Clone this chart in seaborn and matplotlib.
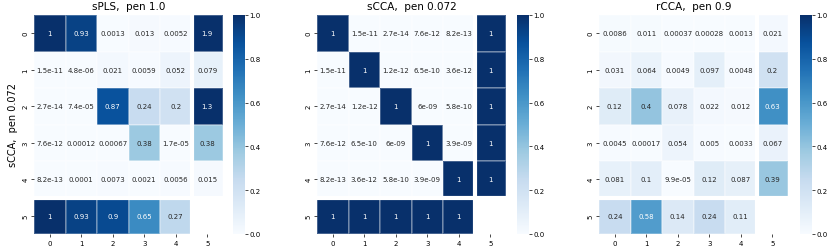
import numpy as np
import pandas as pd
import matplotlib
matplotlib.use("Agg")
import matplotlib.pyplot as plt
import seaborn as sns

nan = np.nan
labels = [0, 1, 2, 3, 4, 5]

spls_vals = [
    [1, 0.93, 0.0013, 0.013, 0.0052, 1.9],
    [1.5e-11, 4.8e-06, 0.021, 0.0059, 0.052, 0.079],
    [2.7e-14, 7.4e-05, 0.87, 0.24, 0.2, 1.3],
    [7.6e-12, 0.00012, 0.00067, 0.38, 1.7e-05, 0.38],
    [8.2e-13, 0.0001, 0.0073, 0.0021, 0.0056, 0.015],
    [1, 0.93, 0.9, 0.65, 0.27, nan],
]
scca_vals = [
    [1, 1.5e-11, 2.7e-14, 7.6e-12, 8.2e-13, 1],
    [1.5e-11, 1, 1.2e-12, 6.5e-10, 3.6e-12, 1],
    [2.7e-14, 1.2e-12, 1, 6e-09, 5.8e-10, 1],
    [7.6e-12, 6.5e-10, 6e-09, 1, 3.9e-09, 1],
    [8.2e-13, 3.6e-12, 5.8e-10, 3.9e-09, 1, 1],
    [1, 1, 1, 1, 1, nan],
]
rcca_vals = [
    [0.0086, 0.011, 0.00037, 0.00028, 0.0013, 0.021],
    [0.031, 0.064, 0.0049, 0.097, 0.0048, 0.2],
    [0.12, 0.4, 0.078, 0.022, 0.012, 0.63],
    [0.0045, 0.00017, 0.054, 0.005, 0.0033, 0.067],
    [0.081, 0.1, 9.9e-05, 0.12, 0.087, 0.39],
    [0.24, 0.58, 0.14, 0.24, 0.11, nan],
]
titles = ["sPLS,  pen 1.0", "sCCA,  pen 0.072", "rCCA,  pen 0.9"]
ylabel = "sCCA,  pen 0.072"

W, H = 830, 251
fig = plt.figure(figsize=(W / 100, H / 100), dpi=100)

hm_left = [34, 317, 599]
cb_left = [233, 517, 800]
bottom, top = 16, 235
hm_w = 189
cb_w = 12

for i, vals in enumerate([spls_vals, scca_vals, rcca_vals]):
    df = pd.DataFrame(vals, index=labels, columns=labels)
    ax = fig.add_axes([hm_left[i] / W, bottom / H, hm_w / W, (top - bottom) / H])
    cax = fig.add_axes([cb_left[i] / W, bottom / H, cb_w / W, (top - bottom) / H])
    sns.heatmap(df, ax=ax, cbar_ax=cax, cmap="Blues", vmin=0, vmax=1,
                annot=True, fmt=".2g", annot_kws={"fontsize": 5},
                linewidths=0.3, linecolor=(1, 1, 1, 0.25))
    ax.axhline(5, color="white", lw=3)
    ax.axvline(5, color="white", lw=3)
    ax.set_title(titles[i], fontsize=7.5, pad=4)
    ax.tick_params(labelsize=5, length=2, width=0.5, pad=2)
    plt.setp(ax.get_yticklabels(), rotation=90, va="center")
    plt.setp(ax.get_xticklabels(), rotation=0)
    cax.tick_params(labelsize=5, length=2, width=0.5, pad=1)
    cax.set_yticks([0, 0.2, 0.4, 0.6, 0.8, 1.0])
    cax.set_yticklabels(["0.0", "0.2", "0.4", "0.6", "0.8", "1.0"])
    for s in cax.spines.values():
        s.set_visible(False)
    if i == 0:
        ax.set_ylabel(ylabel, fontsize=7, labelpad=3)

fig.savefig("out.png", dpi=100)
